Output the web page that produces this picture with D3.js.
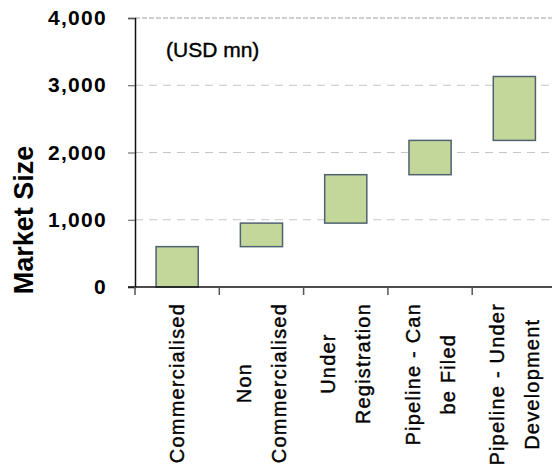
<!DOCTYPE html>
<html>
<head>
<meta charset="utf-8">
<script src="https://cdn.jsdelivr.net/npm/d3@7"></script>
<style>
  html, body { margin: 0; padding: 0; background: #fff; }
  svg { display: block; font-family: Arial, "Liberation Sans", sans-serif; }
</style>
</head>
<body>
<svg id="chart" width="552" height="467"></svg>
<script>
// categories, each label split into its lines
const categories = ['Commercialised', 'Non Commercialised', 'Under Registration', 'Pipeline - Can be Filed', 'Pipeline - Under Development'];
const labelLines = [
  ['Commercialised'],
  ['Non', 'Commercialised'],
  ['Under', 'Registration'],
  ['Pipeline - Can', 'be Filed'],
  ['Pipeline - Under', 'Development']
];
// market size added at each step (USD mn)
const increments = [600, 350, 720, 510, 950];
const yTicks = [0, 1000, 2000, 3000, 4000];

const ends = d3.cumsum(increments);
const data = categories.map((c, i) => ({ name: c, lines: labelLines[i], low: ends[i] - increments[i], high: ends[i] }));

const svg = d3.select('#chart');
const margin = { top: 18, left: 135, bottom: 180 };
const bandW = 84.3;
const plotBottom = 467 - margin.bottom; // 287

const x = d3.scaleBand()
  .domain(categories)
  .range([margin.left, margin.left + bandW * categories.length])
  .paddingInner(0.5)
  .paddingOuter(0.25);

const y = d3.scaleLinear()
  .domain([0, 4000])
  .range([plotBottom, margin.top]);

const xEnd = margin.left + bandW * categories.length;

// gridlines
svg.append('g')
  .selectAll('line')
  .data(yTicks.filter(d => d > 0))
  .join('line')
  .attr('x1', margin.left)
  .attr('x2', xEnd)
  .attr('y1', d => y(d))
  .attr('y2', d => y(d))
  .attr('stroke', d => d === 4000 ? '#cfcfcf' : '#c6c6c6')
  .attr('stroke-width', d => d === 4000 ? 2 : 1)
  .attr('stroke-dasharray', d => d === 4000 ? '5,2' : '8,6');

// bars
svg.append('g')
  .selectAll('rect')
  .data(data)
  .join('rect')
  .attr('x', d => x(d.name))
  .attr('width', x.bandwidth())
  .attr('y', d => y(d.high))
  .attr('height', d => y(d.low) - y(d.high))
  .attr('fill', '#c4d79b')
  .attr('stroke', '#4f6270')
  .attr('stroke-width', 1.5);

// y axis
const yAxis = svg.append('g')
  .attr('transform', `translate(${margin.left},0)`)
  .call(d3.axisLeft(y).tickValues(yTicks).tickSize(7).tickPadding(21).tickFormat(d3.format(',')));
yAxis.select('.domain').attr('stroke', '#111').attr('stroke-width', 1.5);
yAxis.selectAll('.tick line').attr('stroke', '#555');
yAxis.selectAll('.tick text')
  .attr('fill', '#000')
  .style('font-size', '21px')
  .style('font-weight', 'bold')
  .style('letter-spacing', '1.3px');

// x axis line and ticks at band boundaries
svg.append('line')
  .attr('x1', margin.left - 7).attr('x2', xEnd)
  .attr('y1', plotBottom).attr('y2', plotBottom)
  .attr('stroke', '#111').attr('stroke-width', 1.5);
svg.append('g')
  .selectAll('line')
  .data(d3.range(categories.length + 1))
  .join('line')
  .attr('x1', i => margin.left + i * bandW)
  .attr('x2', i => margin.left + i * bandW)
  .attr('y1', plotBottom)
  .attr('y2', plotBottom + 8)
  .attr('stroke', '#555')
  .attr('stroke-width', 1.5);

// category labels, rotated, lines centred on the longest line
const labelTop = 303;
const lineGap = 35;
data.forEach(d => {
  const cx = x(d.name) + x.bandwidth() / 2;
  const g = svg.append('g');
  const texts = d.lines.map(ln => g.append('text')
    .text(ln)
    .attr('fill', '#000')
    .attr('stroke', '#000')
    .attr('stroke-width', 0.4)
    .style('font-size', '20px')
    .style('letter-spacing', '1.2px')
    .attr('text-anchor', 'middle'));
  const maxLen = d3.max(texts, t => t.node().getComputedTextLength());
  const cy = labelTop + maxLen / 2;
  const n = d.lines.length;
  texts.forEach((t, j) => {
    const bx = cx + 7 + (j - (n - 1) / 2) * lineGap;
    t.attr('transform', `translate(${bx},${cy}) rotate(-90)`);
  });
});

// y axis title
svg.append('text')
  .attr('transform', `translate(33,220) rotate(-90)`)
  .attr('text-anchor', 'middle')
  .attr('fill', '#000')
  .style('font-size', '27px')
  .style('font-weight', 'bold')
  .text('Market Size');

// unit note
svg.append('text')
  .attr('x', 166)
  .attr('y', 57)
  .attr('fill', '#000')
  .attr('stroke', '#000')
  .attr('stroke-width', 0.4)
  .style('font-size', '21px')
  .text('(USD mn)');
</script>
</body>
</html>
